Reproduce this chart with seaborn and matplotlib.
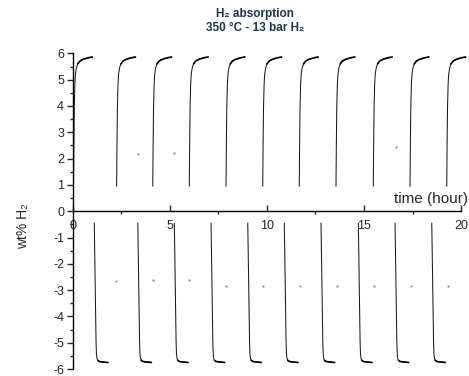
import pandas as pd
import seaborn as sns
import matplotlib.pyplot as plt
from matplotlib.ticker import MultipleLocator

# ================= DATA =================
# start time (hour) of each absorption / desorption step
abs_start = [0.05, 2.27, 4.13, 6.01, 7.90, 9.79, 11.67, 13.56, 15.48, 17.37, 19.26]
des_start = [1.12, 3.36, 5.24, 7.13, 9.02, 10.90, 12.79, 14.71, 16.60, 18.49]

# shape of one step: time since start (hour) and wt% H2
abs_dt = [0.0, 0.02, 0.04, 0.07, 0.10, 0.15, 0.22, 0.32, 0.45, 0.60, 0.80, 0.97]
abs_wt = [0.95, 2.6, 3.9, 4.8, 5.2, 5.45, 5.6, 5.7, 5.76, 5.8, 5.84, 5.86]

des_dt = [0.0, 0.03, 0.06, 0.09, 0.11, 0.14, 0.18, 0.25, 0.40, 0.55, 0.70]
des_wt = [-0.45, -1.9, -3.4, -4.9, -5.4, -5.6, -5.67, -5.71, -5.73, -5.74, -5.75]

# isolated points between steps
abs_dot_t = [3.36, 5.22, 16.63]
abs_dot_wt = [2.18, 2.20, 2.46]
des_dot_t = [2.22, 4.13, 6.00, 7.90, 9.80, 11.70, 13.60, 15.50, 17.40, 19.30]
des_dot_wt = [-2.67, -2.61, -2.61, -2.85, -2.84, -2.84, -2.84, -2.84, -2.84, -2.84]

x_ticks = [0, 5, 10, 15, 20]
y_ticks = [-6, -5, -4, -3, -2, -1, 0, 1, 2, 3, 4, 5, 6]

rows = []
for i, t0 in enumerate(abs_start):
    for dt, w in zip(abs_dt, abs_wt):
        rows.append({"time": t0 + dt, "wt": w, "step": f"abs{i}"})
for i, t0 in enumerate(des_start):
    for dt, w in zip(des_dt, des_wt):
        rows.append({"time": t0 + dt, "wt": w, "step": f"des{i}"})
df = pd.DataFrame(rows)

# ================= PLOT =================
sns.set_style("ticks")
plt.rcParams["font.family"] = ["Liberation Sans", "DejaVu Sans"]

fig = plt.figure(figsize=(4.69, 3.76), dpi=100)
ax = fig.add_axes([0.1546, 0.0150, 0.841, 0.850])

sns.lineplot(data=df, x="time", y="wt", units="step", estimator=None,
             sort=False, color="0.1", lw=0.75, ax=ax)
# plateaus are denser, draw them a bit heavier
plat = df[(df["wt"] > 5.55) | (df["wt"] < -5.6)]
sns.lineplot(data=plat, x="time", y="wt", units="step", estimator=None,
             sort=False, color="black", lw=1.2, ax=ax)
sns.scatterplot(x=abs_dot_t, y=abs_dot_wt, s=3, color="0.6", linewidth=0, ax=ax)
sns.scatterplot(x=des_dot_t, y=des_dot_wt, s=3, color="0.6", linewidth=0, ax=ax)

ax.set_xlim(0, 20.3)
ax.set_ylim(-6.05, 6.1)
ax.spines["top"].set_visible(False)
ax.spines["right"].set_visible(False)
ax.spines["bottom"].set_position(("data", 0))
ax.spines["bottom"].set_bounds(0, 20)
ax.spines["left"].set_bounds(-6, 6)
for s in ["bottom", "left"]:
    ax.spines[s].set_linewidth(1.0)
    ax.spines[s].set_color("black")

ax.set_xticks(x_ticks)
ax.set_xticklabels([str(t) for t in x_ticks])
ax.xaxis.set_minor_locator(MultipleLocator(2.5))
ax.set_yticks(y_ticks)
ax.set_yticklabels([str(t) for t in y_ticks])
ax.yaxis.set_minor_locator(MultipleLocator(0.5))

ax.tick_params(axis="x", which="major", direction="in", length=4, width=1,
               pad=6, labelsize=9)
ax.tick_params(axis="x", which="minor", direction="out", length=2, width=1)
ax.tick_params(axis="y", which="major", direction="out", length=4, width=1,
               pad=2, labelsize=9)
ax.tick_params(axis="y", which="minor", direction="out", length=2, width=1)
ax.set_xlabel("")
ax.set_ylabel("")

fig.text(468 / 469, 1 - 199 / 376, "time (hour)", ha="right", va="center",
         fontsize=11)
fig.text(23 / 469, 1 - 226 / 376, "wt% H\u2082", rotation=90, ha="center",
         va="center", fontsize=10)

title_color = "#1c3452"
fig.text(255 / 469, 1 - 14 / 376, "H\u2082 absorption", ha="center",
         va="center", fontsize=8.5, fontweight="bold", color=title_color)
fig.text(255 / 469, 1 - 28 / 376, "350 \u00b0C - 13 bar H\u2082", ha="center",
         va="center", fontsize=8.5, fontweight="bold", color=title_color)

fig.savefig("out.png", dpi=100)
